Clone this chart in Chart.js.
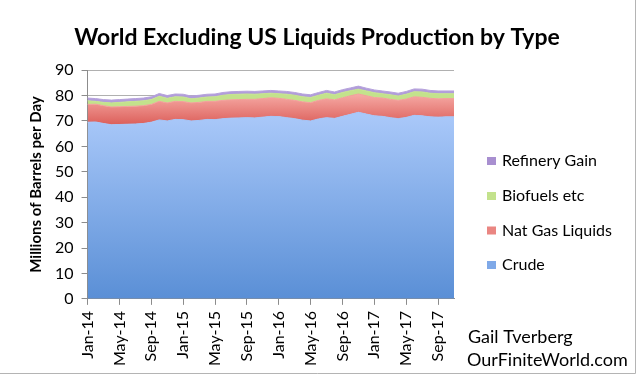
<!DOCTYPE html>
<html>
<head>
<meta charset="utf-8">
<script src="https://cdn.jsdelivr.net/npm/chart.js@4.4.1/dist/chart.umd.min.js"></script>
<style>
  html, body { margin: 0; padding: 0; background: #fff; }
  #wrap { width: 640px; height: 377px; position: relative; }
</style>
</head>
<body>
<div id="wrap"><canvas id="c" width="640" height="377"></canvas></div>
<script>
const months = ['Jan-14','Feb-14','Mar-14','Apr-14','May-14','Jun-14','Jul-14','Aug-14','Sep-14','Oct-14','Nov-14','Dec-14',
  'Jan-15','Feb-15','Mar-15','Apr-15','May-15','Jun-15','Jul-15','Aug-15','Sep-15','Oct-15','Nov-15','Dec-15',
  'Jan-16','Feb-16','Mar-16','Apr-16','May-16','Jun-16','Jul-16','Aug-16','Sep-16','Oct-16','Nov-16','Dec-16',
  'Jan-17','Feb-17','Mar-17','Apr-17','May-17','Jun-17','Jul-17','Aug-17','Sep-17','Oct-17','Nov-17'];

const crude = [69.5,69.6,69.0,68.5,68.6,68.7,68.8,69.0,69.5,70.4,70.0,70.6,
  70.5,70.0,70.2,70.6,70.5,70.9,71.1,71.2,71.3,71.2,71.5,71.8,
  71.7,71.3,70.9,70.3,70.0,70.8,71.3,71.0,71.8,72.6,73.4,72.7,
  72.0,71.8,71.3,70.9,71.4,72.2,72.0,71.6,71.5,71.6,71.6];
const natGasLiquids = [7.0,7.0,7.0,7.0,7.0,7.0,7.0,7.0,7.0,7.3,7.1,7.1,
  7.1,7.1,7.1,7.1,7.2,7.2,7.2,7.2,7.2,7.3,7.3,7.3,
  7.2,7.2,7.2,7.2,7.2,7.3,7.4,7.3,7.3,7.3,7.2,7.2,
  7.2,7.2,7.2,7.2,7.2,7.3,7.3,7.3,7.2,7.2,7.2];
const biofuels = [1.4,1.1,1.3,1.6,1.7,1.8,1.9,1.9,1.9,2.0,1.8,1.8,
  1.8,1.6,1.7,1.7,1.8,2.0,2.1,2.1,2.1,2.0,1.9,1.8,
  1.8,2.0,2.0,2.0,2.0,2.0,2.2,2.0,2.1,2.0,1.9,1.9,
  1.9,1.7,1.8,1.7,1.9,2.0,2.1,2.0,2.0,1.9,1.9];
const refineryGain = [1.1,1.1,1.1,1.1,1.1,1.1,1.1,1.1,1.1,1.1,1.1,1.1,
  1.1,1.1,1.1,1.1,1.1,1.1,1.1,1.1,1.1,1.1,1.1,1.1,
  1.1,1.1,1.1,1.1,1.1,1.1,1.1,1.1,1.1,1.1,1.2,1.1,
  1.1,1.1,1.1,1.1,1.1,1.1,1.1,1.1,1.1,1.1,1.1];
const yTicks = [0,10,20,30,40,50,60,70,80,90];

const FONT = 'Lato, "Open Sans", sans-serif';

function vGrad(ctx, v0, v1, c0, c1, fallback) {
  const chart = ctx.chart;
  const area = chart.chartArea;
  if (!area) return fallback;
  const y = chart.scales.y;
  const g = chart.ctx.createLinearGradient(0, y.getPixelForValue(v0), 0, y.getPixelForValue(v1));
  g.addColorStop(0, c0);
  g.addColorStop(1, c1);
  return g;
}

const legendItems = [
  { text: 'Refinery Gain', color: '#a88fd0' },
  { text: 'Biofuels etc', color: '#c3e28c' },
  { text: 'Nat Gas Liquids', color: '#ea8682' },
  { text: 'Crude', color: '#7fa9e8' }
];

const extras = {
  id: 'extras',
  afterDraw(chart) {
    const c = chart.ctx;
    c.save();
    // legend
    c.font = '16px ' + FONT;
    c.textBaseline = 'middle';
    c.textAlign = 'left';
    const ys = [161, 196, 230.5, 265];
    legendItems.forEach((it, i) => {
      c.fillStyle = it.color;
      c.fillRect(487, ys[i] - 4, 9, 8);
      c.fillStyle = '#000';
      c.fillText(it.text, 502, ys[i]);
    });
    // credit
    c.font = '18px ' + FONT;
    c.textBaseline = 'alphabetic';
    c.fillText('Gail Tverberg', 468, 343);
    c.fillText('OurFiniteWorld.com', 467, 366);
    // frame
    c.strokeStyle = '#b4b4b4';
    c.lineWidth = 1;
    c.beginPath();
    c.moveTo(635.5, 0);
    c.lineTo(635.5, 373.5);
    c.lineTo(0, 373.5);
    c.stroke();
    c.restore();
  }
};

new Chart(document.getElementById('c'), {
  type: 'line',
  data: {
    labels: months,
    datasets: [
      {
        label: 'Crude', data: crude, fill: 'origin', pointRadius: 0, borderWidth: 1,
        borderColor: '#a6c5f7',
        backgroundColor: ctx => vGrad(ctx, 0, 72, '#5a8fd6', '#a9c8f9', '#7fa9e8')
      },
      {
        label: 'Nat Gas Liquids', data: natGasLiquids, fill: '-1', pointRadius: 0, borderWidth: 1,
        borderColor: '#f2a19c',
        backgroundColor: ctx => vGrad(ctx, 69, 80, '#dd625d', '#f5a7a2', '#ea8682')
      },
      {
        label: 'Biofuels etc', data: biofuels, fill: '-1', pointRadius: 0, borderWidth: 1,
        borderColor: '#c6e48f',
        backgroundColor: '#c3e28c'
      },
      {
        label: 'Refinery Gain', data: refineryGain, fill: '-1', pointRadius: 0, borderWidth: 1,
        borderColor: '#b6a2dc',
        backgroundColor: '#b19dda'
      }
    ]
  },
  options: {
    responsive: false,
    animation: false,
    events: [],
    layout: { padding: { left: 0, right: 6, top: 0, bottom: 5 } },
    elements: { line: { tension: 0 } },
    plugins: {
      legend: { display: false },
      tooltip: { enabled: false },
      title: {
        display: true,
        text: 'World Excluding US Liquids Production by Type',
        color: '#000',
        font: { family: FONT, size: 23, weight: 'bold' },
        padding: { top: 24, bottom: 18.5 }
      }
    },
    scales: {
      x: {
        stacked: true,
        offset: false,
        grid: {
          drawOnChartArea: false,
          drawTicks: true,
          tickLength: 6,
          color: ctx => (ctx.index % 4 === 0 ? '#8c8c8c' : 'rgba(0,0,0,0)')
        },
        border: { display: true, color: '#8c8c8c' },
        ticks: {
          autoSkip: false,
          maxRotation: 90,
          minRotation: 90,
          padding: 6,
          color: '#000',
          font: { family: FONT, size: 16 },
          callback: (v, i) => (i % 4 === 0 ? months[i] : '')
        }
      },
      y: {
        stacked: true,
        min: 0,
        max: 90,
        afterBuildTicks: axis => { axis.ticks = yTicks.map(v => ({ value: v })); },
        grid: { color: '#b0b0b0', tickLength: 6, tickColor: '#8c8c8c' },
        border: { display: true, color: '#8c8c8c' },
        ticks: {
          padding: 8,
          color: '#000',
          font: { family: FONT, size: 16 }
        },
        title: {
          display: true,
          text: 'Millions of Barrels per Day',
          color: '#000',
          font: { family: FONT, size: 15, weight: 'bold' },
          padding: { top: 27, bottom: 2 }
        }
      },
      side: {
        type: 'linear',
        position: 'right',
        display: true,
        grid: { display: false },
        border: { display: false },
        ticks: { display: false },
        afterFit: s => { s.width = 180; }
      }
    }
  },
  plugins: [extras]
});
</script>
</body>
</html>
